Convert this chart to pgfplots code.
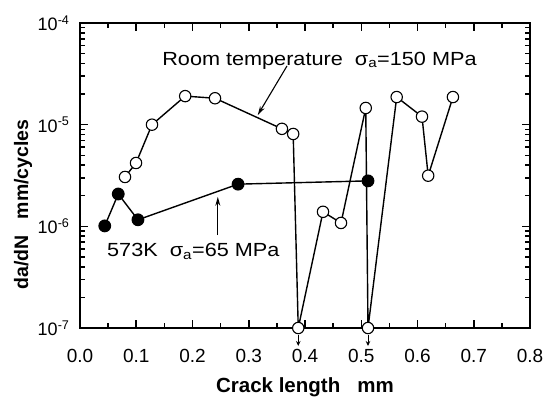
\documentclass[border=0pt]{standalone}
\usepackage{pgfplots}
\pgfplotsset{compat=1.18}
\usetikzlibrary{arrows.meta}
\usepackage{fontspec}
\setmainfont{Liberation Sans}
\newfontfamily\annfont[FakeStretch=1.14]{Liberation Sans}
\begin{document}
\begin{tikzpicture}
\begin{axis}[
  scale only axis, width=450pt, height=305pt,
  xmin=0, xmax=0.8, ymin=1e-7, ymax=1e-4, ymode=log,
  clip=false,
  xtick={0,0.1,0.2,0.3,0.4,0.5,0.6,0.7,0.8}, minor x tick num=1,
  ytick={1e-7,1e-6,1e-5,1e-4},
  yticklabels={10\textsuperscript{-7},10\textsuperscript{-6},10\textsuperscript{-5},10\textsuperscript{-4}},
  tick align=inside, xtick pos=both, ytick pos=both,
  major tick length=8pt, minor tick length=5pt,
  axis line style={line width=2.2pt},
  every tick/.style={line width=1.5pt, black},
  /pgf/number format/assume math mode=true,
  xticklabel style={/pgf/number format/.cd, fixed, fixed zerofill, precision=1, /tikz/.cd,
     font=\fontsize{19}{21}\selectfont, yshift=-18pt},
  yticklabel style={font=\fontsize{18}{20}\selectfont, xshift=-7pt},
  xlabel={\textbf{Crack length\ \ \ mm}},
  xlabel style={font=\fontsize{20.5}{22}\selectfont, at={(rel axis cs:0.5,0)}, anchor=base, yshift=-64pt},
]
\addplot[black, line width=1.4pt, mark=*, mark size=5.7pt, mark options={fill=white, line width=1.1pt}]
  coordinates {
  (0.080,3.06e-6) (0.0996,4.2e-6) (0.128,1.0e-5) (0.187,1.91e-5) (0.240,1.82e-5)
  (0.359,9.1e-6) (0.379,8.1e-6) (0.388,1e-7) (0.432,1.39e-6) (0.464,1.08e-6)
  (0.508,1.46e-5) (0.512,1e-7) (0.563,1.87e-5) (0.608,1.2e-5) (0.619,3.15e-6)
  (0.663,1.87e-5)
  };
\addplot[black, line width=1.4pt, mark=*, mark size=5.7pt, mark options={fill=black}]
  coordinates {
  (0.044,1.01e-6) (0.068,2.08e-6) (0.103,1.16e-6) (0.281,2.6e-6) (0.512,2.8e-6)
  };
\draw[line width=1pt, -{Stealth[length=5pt,width=4.5pt]}] ([yshift=-7pt]axis cs:0.388,1e-7) -- ([yshift=-18pt]axis cs:0.388,1e-7);
\draw[line width=1pt, -{Stealth[length=5pt,width=4.5pt]}] ([yshift=-7pt]axis cs:0.512,1e-7) -- ([yshift=-18pt]axis cs:0.512,1e-7);
\draw[line width=1.1pt, -{Stealth[length=9pt,width=5pt]}] (axis cs:0.368,3.78e-5) -- (axis cs:0.316,1.245e-5);
\draw[line width=1.1pt, -{Stealth[length=9pt,width=5pt]}] (axis cs:0.245,8.2e-7) -- (axis cs:0.245,1.95e-6);
\node[anchor=base west, inner sep=0pt, font=\annfont\fontsize{19}{21}\selectfont] at (axis cs:0.146,3.86e-5)
  {Room temperature\ \ σ\textsubscript{a}=150 MPa};
\node[anchor=base west, inner sep=0pt, font=\annfont\fontsize{19}{21}\selectfont] at (axis cs:0.048,5.0e-7)
  {573K\ \ σ\textsubscript{a}=65 MPa};
\node[rotate=90, anchor=center, font=\bfseries\fontsize{19.5}{21}\selectfont]
  at ([xshift=-57pt]axis description cs:0,0.405) {da/dN\ \ \ mm/cycles};
\end{axis}
\pgfresetboundingbox
\path (-80pt,-71pt) rectangle (474pt,328pt);
\end{tikzpicture}
\end{document}
